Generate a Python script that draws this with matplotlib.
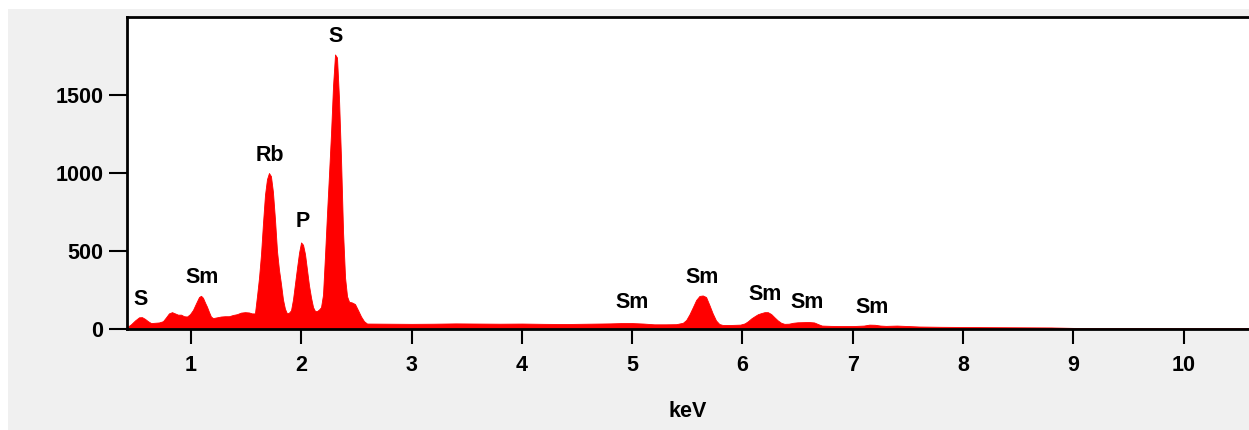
import matplotlib
matplotlib.use("Agg")
import matplotlib.pyplot as plt
from matplotlib.patches import Rectangle

# Spectrum (keV, counts)
energy_kev = [0.42, 0.456, 0.493, 0.529, 0.556, 0.583, 0.61, 0.638, 0.674, 0.71, 0.746, 0.774,
              0.80, 0.828, 0.855, 0.882, 0.91, 0.937, 0.964, 0.991, 1.018, 1.046, 1.073, 1.091,
              1.109, 1.127, 1.145, 1.163, 1.181, 1.20, 1.236, 1.272, 1.308, 1.345, 1.381, 1.417,
              1.453, 1.49, 1.526, 1.553, 1.58, 1.60, 1.617, 1.635, 1.653, 1.671, 1.689, 1.707,
              1.725, 1.743, 1.762, 1.78, 1.798, 1.816, 1.834, 1.852, 1.87, 1.889, 1.907, 1.925,
              1.943, 1.961, 1.98, 1.998, 2.016, 2.034, 2.052, 2.07, 2.089, 2.107, 2.125, 2.143,
              2.161, 2.179, 2.197, 2.215, 2.234, 2.252, 2.270, 2.288, 2.306, 2.324, 2.342, 2.360,
              2.379, 2.397, 2.415, 2.433, 2.46, 2.487, 2.515, 2.542, 2.569, 2.596, 2.8, 3.0,
              3.2, 3.4, 3.6, 3.8, 4.0, 4.2, 4.4, 4.6, 4.8, 4.9, 5.0, 5.1, 5.2, 5.3, 5.4, 5.46,
              5.49, 5.52, 5.55, 5.58, 5.61, 5.64, 5.67, 5.70, 5.73, 5.76, 5.79, 5.82, 5.9, 5.98,
              6.02, 6.05, 6.08, 6.11, 6.14, 6.17, 6.20, 6.23, 6.26, 6.29, 6.32, 6.35, 6.38, 6.42,
              6.46, 6.50, 6.55, 6.60, 6.65, 6.69, 6.72, 6.8, 6.9, 7.0, 7.1, 7.15, 7.2, 7.25, 7.3,
              7.4, 7.5, 7.6, 7.8, 8.0, 8.2, 8.5, 8.8, 9.0, 9.5, 10.0, 10.6]
counts = [12, 30, 55, 75, 76, 65, 50, 38, 40, 42, 50, 75,
          100, 108, 100, 92, 92, 82, 80, 95, 122, 165, 205, 213,
          200, 170, 143, 110, 80, 70, 75, 80, 82, 82, 90, 95,
          105, 108, 106, 100, 100, 220, 330, 480, 680, 860, 960, 1000,
          980, 880, 700, 500, 380, 290, 190, 130, 100, 105, 120, 190,
          290, 390, 490, 555, 540, 480, 380, 280, 200, 140, 115, 115,
          125, 140, 220, 470, 750, 1000, 1260, 1560, 1760, 1740, 1480, 1100,
          620, 330, 210, 175, 170, 160, 120, 80, 50, 35, 34, 33,
          34, 36, 35, 34, 35, 33, 32, 34, 36, 38, 38, 35, 30, 30, 31, 40,
          58, 95, 140, 186, 212, 215, 205, 154, 100, 55, 32, 26, 26, 28,
          36, 50, 68, 82, 95, 102, 108, 108, 96, 75, 55, 40, 33, 34,
          40, 43, 44, 45, 42, 30, 22, 20, 19, 19, 22, 28, 27, 22, 20,
          22, 19, 16, 14, 13, 12, 11, 10, 7, 6, 5, 5]

# Peak labels
peak_labels = ["S", "Sm", "Rb", "P", "S", "Sm", "Sm", "Sm", "Sm", "Sm"]
label_x = [0.547, 1.10, 1.716, 2.016, 2.315, 5.00, 5.633, 6.204, 6.585, 7.174]
label_y = [192, 327, 1115, 692, 1872, 167, 333, 224, 173, 141]

x_ticks = [1, 2, 3, 4, 5, 6, 7, 8, 9, 10]
y_ticks = [0, 500, 1000, 1500]

W, H = 1249, 430
fig = plt.figure(figsize=(W / 100, H / 100), dpi=100, facecolor="white")
fig.patches.append(Rectangle((8 / W, 0), 1 - 8 / W, 1 - 9 / H, transform=fig.transFigure,
                             facecolor="#f0f0f0", edgecolor="none", zorder=-10))

ax = fig.add_axes([127 / W, 1 - 329 / H, 1122 / W, 312 / H])
ax.set_facecolor("white")
ax.fill_between(energy_kev, counts, 0, facecolor="#ff0000", edgecolor="#ff0000", linewidth=0.6)

ax.set_xlim(0.42, 0.42 + 1122 / 110.3)
ax.set_ylim(0, 2000)

font = "Liberation Sans"
fs = 15.5
for lab, x, y in zip(peak_labels, label_x, label_y):
    ax.text(x, y, lab, ha="center", va="center", fontsize=fs, fontweight="bold",
            family=font, color="black")

ax.set_xticks(x_ticks)
ax.set_yticks(y_ticks)
ax.set_xticklabels([str(t) for t in x_ticks], fontsize=fs, fontweight="bold", family=font)
ax.set_yticklabels([str(t) for t in y_ticks], fontsize=fs, fontweight="bold", family=font)
ax.tick_params(axis="x", length=11, width=1.5, pad=8, direction="out")
ax.tick_params(axis="y", length=13, width=1.5, pad=4, direction="out")
for s in ["left", "top", "bottom"]:
    ax.spines[s].set_linewidth(2)
    ax.spines[s].set_color("black")
ax.spines["right"].set_visible(False)
ax.set_xlabel("keV", fontsize=fs, fontweight="bold", family=font, labelpad=18)

fig.savefig("out.png", dpi=100, facecolor=fig.get_facecolor())
